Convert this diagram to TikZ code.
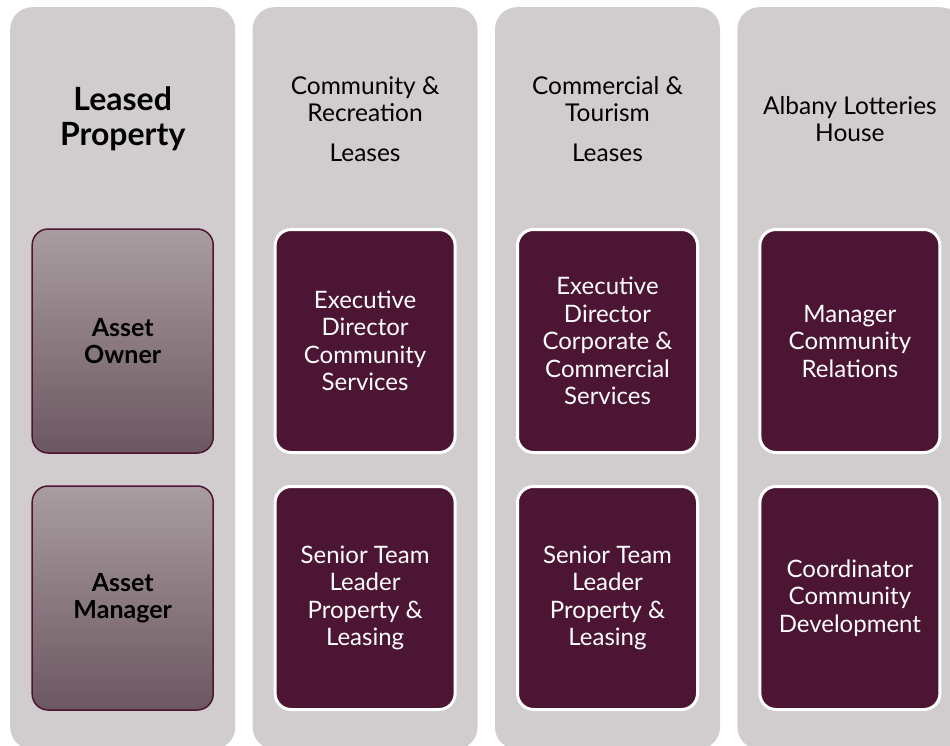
\documentclass[tikz,border=0pt]{standalone}
\usepackage{fontspec}
\setmainfont{Lato}
\usetikzlibrary{positioning}

\definecolor{lanegray}{HTML}{D1CDCE}
\definecolor{maroon}{HTML}{4D1534}
\definecolor{mauvetop}{HTML}{A99DA1}
\definecolor{mauvebot}{HTML}{6C5760}

\begin{document}
\begin{tikzpicture}[x=1pt,y=-1pt,
            node distance = 17pt,
            lane/.style = {fill=lanegray,rounded corners=22pt,inner sep=0pt,
                minimum width=225pt,minimum height=742pt},
            head/.style = {align=center,font=\fontsize{24.5}{27}\selectfont},
            rolebox/.style = {draw=maroon,line width=1.5pt,rounded corners=16pt,
                top color=mauvetop,bottom color=mauvebot,align=center,
                minimum width=181pt,minimum height=224pt,
                font=\fontsize{25}{27}\selectfont\bfseries},
            staffbox/.style = {draw=white,line width=3pt,fill=maroon,rounded corners=16pt,
                minimum width=180pt,minimum height=223pt,align=center,text=white,
                font=\fontsize{24}{27.5}\selectfont}]
            \useasboundingbox (0,0) rectangle (950,746);
            \coordinate (headrow) at (0,119);
            \coordinate (row1) at (0,341);
            \coordinate (row2) at (0,598);
            % lanes
            \node[lane,anchor=north west](lane1) at (10,7) {};
            \node[lane,right=of lane1](lane2) {};
            \node[lane,right=of lane2](lane3) {};
            \node[lane,right=of lane3](lane4) {};
            % headers
            \node[head,font=\fontsize{32}{35}\selectfont\bfseries](h1) at (lane1 |- headrow) {Leased\\Property};
            \node[head](h2) at (lane2 |- headrow) {Community \&\\Recreation\\[13pt]Leases};
            \node[head](h3) at (lane3 |- headrow) {Commercial \&\\Tourism\\[13pt]Leases};
            \node[head](h4) at (lane4 |- headrow) {Albany Lotteries\\House};
            % rows
            \node[rolebox](owner) at (lane1 |- row1) {Asset\\Owner};
            \node[rolebox](manager) at (lane1 |- row2) {Asset\\Manager};
            \node[staffbox](b21) at (lane2 |- row1) {Executive\\Director\\Community\\Services};
            \node[staffbox](b22) at (lane2 |- row2) {Senior Team\\Leader\\Property \&\\Leasing};
            \node[staffbox](b31) at (lane3 |- row1) {Executive\\Director\\Corporate \&\\Commercial\\Services};
            \node[staffbox](b32) at (lane3 |- row2) {Senior Team\\Leader\\Property \&\\Leasing};
            \node[staffbox](b41) at (lane4 |- row1) {Manager\\Community\\Relations};
            \node[staffbox](b42) at (lane4 |- row2) {Coordinator\\Community\\Development};
        \end{tikzpicture}
\end{document}
